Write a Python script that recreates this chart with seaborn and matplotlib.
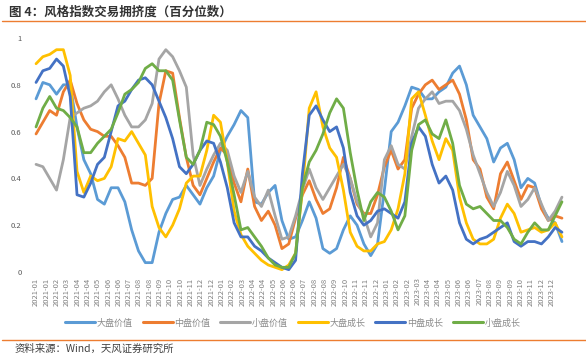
import numpy as np
import pandas as pd
import matplotlib
matplotlib.use('Agg')
import matplotlib.pyplot as plt
import seaborn as sns

# ---- data (weekly crowding percentile, sampled roughly every 2 weeks) ----
large_value = [0.74, 0.81, 0.80, 0.76, 0.80, 0.80, 0.62, 0.48, 0.42, 0.31, 0.29, 0.36, 0.36, 0.30,
               0.18, 0.09, 0.04, 0.04, 0.17, 0.25, 0.31, 0.32, 0.37, 0.33, 0.29, 0.36, 0.41, 0.52,
               0.58, 0.63, 0.69, 0.66, 0.30, 0.29, 0.34, 0.37, 0.22, 0.14, 0.15, 0.22, 0.30, 0.23,
               0.10, 0.08, 0.10, 0.18, 0.24, 0.20, 0.12, 0.07, 0.12, 0.35, 0.60, 0.64, 0.71, 0.79,
               0.78, 0.74, 0.74, 0.77, 0.79, 0.85, 0.88, 0.80, 0.67, 0.62, 0.57, 0.47, 0.53, 0.55,
               0.48, 0.36, 0.40, 0.38, 0.28, 0.23, 0.21, 0.13]
mid_value = [0.59, 0.64, 0.69, 0.67, 0.77, 0.82, 0.72, 0.65, 0.61, 0.60, 0.58, 0.58, 0.54, 0.49,
             0.38, 0.38, 0.37, 0.40, 0.72, 0.86, 0.85, 0.66, 0.49, 0.37, 0.33, 0.40, 0.47, 0.53,
             0.50, 0.38, 0.30, 0.44, 0.28, 0.22, 0.26, 0.20, 0.10, 0.12, 0.23, 0.33, 0.39, 0.31,
             0.25, 0.27, 0.36, 0.49, 0.40, 0.29, 0.25, 0.25, 0.33, 0.45, 0.52, 0.44, 0.48, 0.70,
             0.76, 0.80, 0.82, 0.78, 0.80, 0.82, 0.76, 0.65, 0.48, 0.44, 0.32, 0.27, 0.42, 0.47,
             0.39, 0.31, 0.37, 0.36, 0.27, 0.22, 0.24, 0.23]
small_value = [0.46, 0.45, 0.40, 0.35, 0.48, 0.66, 0.68, 0.70, 0.71, 0.73, 0.77, 0.80, 0.74, 0.67,
               0.62, 0.62, 0.65, 0.72, 0.91, 0.95, 0.92, 0.86, 0.79, 0.50, 0.37, 0.44, 0.50, 0.55,
               0.52, 0.41, 0.34, 0.43, 0.32, 0.28, 0.35, 0.24, 0.14, 0.15, 0.24, 0.35, 0.44, 0.36,
               0.31, 0.36, 0.41, 0.46, 0.40, 0.30, 0.24, 0.15, 0.21, 0.48, 0.54, 0.46, 0.44, 0.58,
               0.70, 0.74, 0.77, 0.72, 0.73, 0.73, 0.69, 0.61, 0.50, 0.42, 0.34, 0.28, 0.34, 0.43,
               0.37, 0.28, 0.31, 0.36, 0.29, 0.22, 0.26, 0.32]
large_growth = [0.89, 0.92, 0.93, 0.95, 0.95, 0.84, 0.43, 0.34, 0.41, 0.39, 0.40, 0.45, 0.57, 0.56,
                0.60, 0.55, 0.50, 0.28, 0.19, 0.15, 0.20, 0.27, 0.38, 0.41, 0.41, 0.52, 0.67, 0.64,
                0.47, 0.26, 0.16, 0.11, 0.08, 0.05, 0.03, 0.02, 0.01, 0.03, 0.08, 0.35, 0.70, 0.77,
                0.62, 0.53, 0.49, 0.35, 0.17, 0.11, 0.09, 0.09, 0.12, 0.13, 0.18, 0.27, 0.42, 0.74,
                0.77, 0.67, 0.56, 0.48, 0.57, 0.52, 0.32, 0.21, 0.14, 0.12, 0.12, 0.14, 0.23, 0.29,
                0.25, 0.17, 0.18, 0.19, 0.17, 0.18, 0.21, 0.15]
mid_growth = [0.81, 0.86, 0.87, 0.91, 0.88, 0.75, 0.33, 0.32, 0.38, 0.46, 0.49, 0.60, 0.71, 0.73,
              0.78, 0.82, 0.83, 0.80, 0.73, 0.66, 0.57, 0.45, 0.42, 0.46, 0.52, 0.56, 0.55, 0.47,
              0.36, 0.21, 0.15, 0.15, 0.11, 0.09, 0.06, 0.04, 0.02, 0.01, 0.05, 0.42, 0.67, 0.71,
              0.65, 0.60, 0.62, 0.53, 0.34, 0.24, 0.20, 0.22, 0.26, 0.27, 0.25, 0.23, 0.30, 0.55,
              0.62, 0.58, 0.46, 0.38, 0.41, 0.35, 0.21, 0.14, 0.12, 0.14, 0.15, 0.17, 0.19, 0.21,
              0.13, 0.11, 0.13, 0.13, 0.12, 0.15, 0.19, 0.17]
small_growth = [0.62, 0.70, 0.75, 0.70, 0.69, 0.66, 0.62, 0.51, 0.51, 0.55, 0.58, 0.61, 0.68, 0.76,
                0.78, 0.81, 0.87, 0.89, 0.86, 0.86, 0.82, 0.65, 0.49, 0.46, 0.52, 0.64, 0.63, 0.58,
                0.47, 0.33, 0.18, 0.19, 0.15, 0.11, 0.06, 0.03, 0.02, 0.02, 0.08, 0.36, 0.47, 0.52,
                0.59, 0.68, 0.74, 0.70, 0.51, 0.35, 0.22, 0.30, 0.34, 0.32, 0.26, 0.18, 0.24, 0.52,
                0.63, 0.65, 0.59, 0.57, 0.65, 0.55, 0.37, 0.29, 0.27, 0.28, 0.25, 0.22, 0.22, 0.19,
                0.14, 0.12, 0.17, 0.21, 0.18, 0.18, 0.24, 0.30]

series_names = ['大盘价值', '中盘价值', '小盘价值', '大盘成长', '中盘成长', '小盘成长']
series_values = [large_value, mid_value, small_value, large_growth, mid_growth, small_growth]
colors = ['#5B9BD5', '#ED7D31', '#A5A5A5', '#FFC000', '#4472C4', '#70AD47']

# x tick labels, one every 3 trading weeks
tick_labels = ['2021-01', '2021-01', '2021-02', '2021-03', '2021-04', '2021-04', '2021-05', '2021-06',
               '2021-06', '2021-07', '2021-08', '2021-08', '2021-09', '2021-10', '2021-10', '2021-11',
               '2021-12', '2021-12', '2022-01', '2022-02', '2022-03', '2022-04', '2022-04', '2022-05',
               '2022-06', '2022-06', '2022-07', '2022-08', '2022-08', '2022-09', '2022-10', '2022-11',
               '2022-11', '2022-12', '2023-01', '2023-02', '2023-02', '2023-03', '2023-04', '2023-04',
               '2023-05', '2023-06', '2023-06', '2023-07', '2023-08', '2023-09', '2023-09', '2023-10',
               '2023-11', '2023-12', '2023-12']
n_weeks = 154

# ---- build long table ----
week_pos = np.linspace(0, n_weeks - 1, len(large_value))
frames = []
for name, vals in zip(series_names, series_values):
    frames.append(pd.DataFrame({'week': week_pos, 'value': vals, 'series': name}))
df = pd.concat(frames, ignore_index=True)

sns.set_style('white')
plt.rcParams['font.family'] = ['Noto Sans CJK SC', 'DejaVu Sans']

W, H = 586, 358
fig = plt.figure(figsize=(W / 100, H / 100), dpi=100)

# axes placed in pixel terms
left_px, right_px, top_px, bottom_px = 32.6, 565.4, 38, 272
ax = fig.add_axes([left_px / W, 1 - bottom_px / H, (right_px - left_px) / W, (bottom_px - top_px) / H])

sns.lineplot(data=df, x='week', y='value', hue='series', hue_order=series_names,
             palette=colors, linewidth=2.0, ax=ax, legend=False)
for line in ax.lines:
    line.set_clip_on(False)
    line.set_solid_joinstyle('round')

ax.set_xlim(-1, n_weeks)
ax.set_ylim(0, 1)
ax.set_yticks([0, 0.2, 0.4, 0.6, 0.8, 1])
ax.set_yticklabels(['0', '0.2', '0.4', '0.6', '0.8', '1'])
ax.set_xticks(np.arange(len(tick_labels)) * 3)
ax.set_xticklabels(tick_labels, rotation=90)
ax.tick_params(axis='both', length=0, labelsize=5.5)
ax.tick_params(axis='y', pad=8, colors='#595959')
ax.tick_params(axis='x', pad=4, colors='#808080')
ax.set_xlabel('')
ax.set_ylabel('')
for s in ax.spines.values():
    s.set_visible(False)

# legend
handles = [plt.Line2D([0], [0], color=c, lw=2.2) for c in colors]
fig.legend(handles, series_names, loc='center', bbox_to_anchor=(0.5, 1 - 323 / H), ncol=6,
           frameon=False, fontsize=6.5, handlelength=3.3, handletextpad=0.2, columnspacing=1.1,
           labelcolor='#8c8c8c')

# title, separators, source
fig.text(9 / W, 1 - 12 / H, '图 4：风格指数交易拥挤度（百分位数）', fontsize=9, fontweight='bold',
         color='#333333', ha='left', va='center')
fig.add_artist(plt.Line2D([2 / W, 1], [1 - 20.5 / H, 1 - 20.5 / H], color='#ED7D31', lw=1.0))
fig.add_artist(plt.Line2D([2 / W, 1], [1 - 339.5 / H, 1 - 339.5 / H], color='#ED7D31', lw=1.0))
fig.text(15 / W, 1 - 349 / H, '资料来源：Wind，天风证券研究所', fontsize=7.5, color='#404040',
         ha='left', va='center')

fig.savefig('out.png', dpi=100)
